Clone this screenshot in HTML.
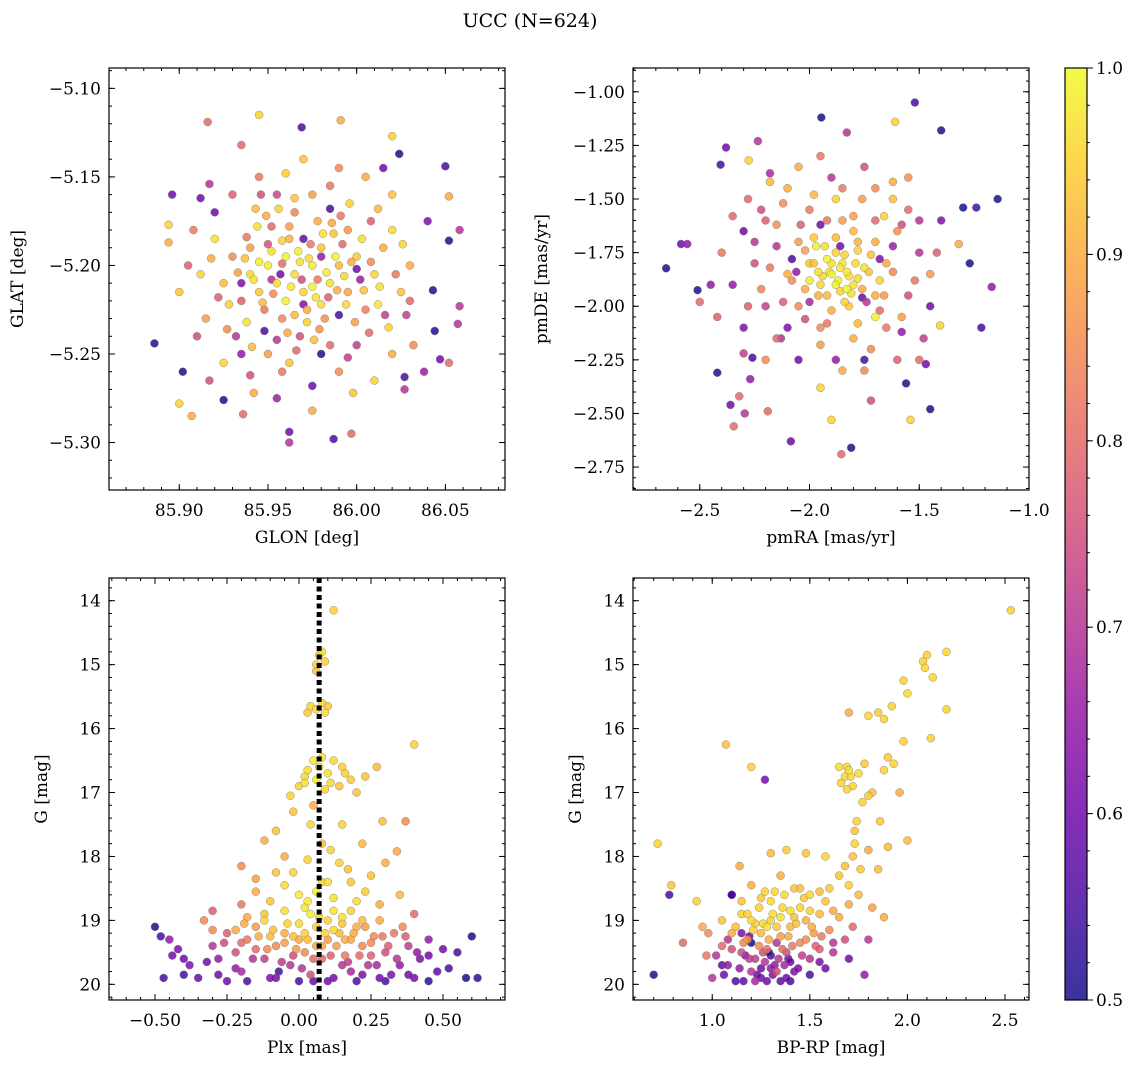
<!DOCTYPE html>
<html><head><meta charset="utf-8"><style>
html,body{margin:0;padding:0;background:#fff;}
svg{display:block;font-family:"DejaVu Serif","Liberation Serif",serif;}
</style></head><body>
<svg id="fig" width="1136" height="1067" viewBox="0 0 1136 1067">
<text x="530" y="27" text-anchor="middle" font-size="19">UCC (N=624)</text>
</svg>
<script>
// ---- Panel 1: GLON / GLAT ----
const p1Glon=[85.886,85.896,85.902,85.916,85.945,85.969,85.991,86.020,86.024,86.050,86.052,86.058,86.043,86.058,86.057,86.044,86.047,86.052,85.900,85.907,85.925,85.936,85.962,85.962,85.987,85.997,86.027,86.027,85.917,85.894,85.894,85.917,85.912,85.935,86.052,
85.950,85.955,85.960,85.965,85.970,85.975,85.980,85.985,85.990,85.945,85.940,85.962,85.972,85.958,85.948,85.982,85.995,86.000,85.995,85.978,85.965,85.952,85.940,85.935,85.930,85.925,85.968,85.985,86.005,86.010,86.015,86.008,85.975,85.955,85.943,85.932,85.950,86.000,86.018,86.025,86.020,85.920,85.915,85.912,85.960,85.975,85.988,85.945,85.968,85.980,85.957,85.990,85.935,86.002,85.970,85.962,85.990,86.030,86.032,85.905,85.900,85.925,85.940,86.010,85.970,85.945,86.005,86.020,85.930,85.978,85.950,85.992,85.965,85.938,86.012,86.028,85.985,85.920,86.040,86.038,85.955,85.975,85.998,85.948,85.980];
const p1Glat=[-5.244,-5.160,-5.260,-5.119,-5.115,-5.122,-5.118,-5.127,-5.137,-5.144,-5.161,-5.180,-5.214,-5.223,-5.233,-5.237,-5.253,-5.255,-5.278,-5.285,-5.276,-5.284,-5.294,-5.300,-5.298,-5.295,-5.270,-5.263,-5.265,-5.177,-5.187,-5.154,-5.162,-5.132,-5.186,
-5.200,-5.210,-5.195,-5.205,-5.215,-5.200,-5.190,-5.210,-5.200,-5.215,-5.190,-5.185,-5.225,-5.230,-5.225,-5.230,-5.215,-5.195,-5.180,-5.175,-5.170,-5.178,-5.205,-5.220,-5.195,-5.210,-5.240,-5.245,-5.225,-5.205,-5.190,-5.175,-5.160,-5.160,-5.168,-5.240,-5.250,-5.245,-5.235,-5.215,-5.180,-5.185,-5.230,-5.205,-5.220,-5.212,-5.195,-5.198,-5.198,-5.222,-5.205,-5.228,-5.210,-5.208,-5.185,-5.255,-5.260,-5.200,-5.245,-5.200,-5.215,-5.255,-5.262,-5.265,-5.140,-5.150,-5.150,-5.160,-5.160,-5.208,-5.188,-5.188,-5.228,-5.232,-5.222,-5.228,-5.168,-5.170,-5.175,-5.260,-5.275,-5.282,-5.272,-5.237,-5.250];
const p1Prob=[.5,.6,.5,.8,.95,.55,.9,.95,.5,.55,.9,.7,.5,.7,.7,.5,.6,.8,.95,.9,.5,.8,.6,.7,.55,.8,.7,.55,.75,.95,.9,.7,.6,.8,.5,
.98,.97,.99,.96,.95,.98,.93,.97,.92,.94,.88,.91,.90,.85,.82,.86,.89,.94,.87,.90,.84,.80,.96,.78,.85,.92,.75,.80,.83,.95,.9,.78,.88,.74,.92,.70,.88,.72,.95,.93,.96,.97,.88,.95,.99,.99,.99,.99,.97,.96,.6,.55,.62,.66,.58,.93,.85,.9,.85,.78,.93,.95,.75,.95,.93,.82,.9,.93,.78,.82,.76,.8,.92,.97,.98,.72,.55,.6,.62,.66,.66,.9,.93,.55,.5];
const p1GlonCore=[85.952,85.958,85.963,85.967,85.973,85.977,85.983,85.987,85.993,85.997,85.942,85.947,85.953,85.958,85.962,85.969,85.974,85.979,85.984,85.989,85.994,85.999,86.004,86.008,86.013,85.937,85.933,85.928,85.938,85.944,85.949,85.956,85.961,85.966,85.972,85.976,85.981,85.986,85.991,85.996,86.003,86.007,86.016,86.022,85.918,85.922,85.927,85.941,85.955,85.946,85.965,85.985,86.012,86.026,86.030,86.020,85.995,85.958,85.935,85.910,85.908,85.960,85.990,85.975,85.942,86.015,85.980,85.952,85.970,86.000];
const p1GlatCore=[-5.192,-5.186,-5.212,-5.192,-5.196,-5.218,-5.204,-5.182,-5.206,-5.198,-5.208,-5.221,-5.216,-5.199,-5.178,-5.208,-5.188,-5.236,-5.218,-5.214,-5.222,-5.232,-5.214,-5.198,-5.212,-5.196,-5.204,-5.222,-5.184,-5.178,-5.172,-5.168,-5.238,-5.248,-5.232,-5.242,-5.182,-5.176,-5.172,-5.165,-5.185,-5.238,-5.228,-5.205,-5.196,-5.218,-5.236,-5.246,-5.242,-5.160,-5.162,-5.155,-5.168,-5.188,-5.220,-5.250,-5.252,-5.260,-5.250,-5.240,-5.180,-5.148,-5.145,-5.268,-5.272,-5.145,-5.195,-5.208,-5.222,-5.202];
const p1ProbCore=[.97,.95,.98,.99,.96,.97,.98,.93,.95,.9,.97,.92,.85,.8,.88,.75,.82,.86,.78,.9,.96,.88,.93,.85,.97,.93,.88,.95,.82,.97,.9,.95,.9,.8,.95,.93,.97,.9,.82,.95,.97,.8,.72,.82,.9,.78,.85,.92,.7,.75,.93,.82,.92,.95,.8,.9,.72,.82,.65,.75,.82,.95,.85,.6,.9,.6,.65,.7,.62,.6];

// ---- Panel 2: pmRA / pmDE ----
const p2Pmra=[-2.653,-2.51,-2.585,-2.557,-2.50,-2.42,-2.405,-2.38,-2.277,-2.235,-1.946,-1.83,-1.61,-1.52,-1.40,-1.30,-1.24,-1.143,-1.27,-1.217,-1.17,-1.32,-1.405,-1.45,-1.54,-1.56,-1.81,-1.855,-1.90,-2.085,-2.19,-2.295,-2.345,-2.36,-2.32,-2.26,-2.27,-1.95,-1.72,-1.47,-1.75,-2.13,
-1.90,-1.85,-1.80,-1.95,-1.88,-1.75,-2.00,-1.92,-1.82,-1.70,-1.78,-2.05,-2.10,-2.05,-1.65,-1.60,-1.70,-1.85,-2.00,-2.20,-2.25,-2.20,-2.15,-1.95,-1.80,-1.65,-1.55,-1.50,-1.55,-1.70,-1.90,-2.10,-2.30,-2.35,-2.30,-1.45,-1.40,-1.75,-2.05,-1.87,-1.83,-1.92,-1.78,-1.96,-1.86,-1.72,-2.02,-1.98,-1.80,-1.68,-1.90,-2.08,-1.76,-1.95,-1.62,-2.15,-2.22,-1.58,-1.62,-1.88,-2.12,-2.28,-2.20,-1.85,-1.60,-1.48,-1.45,-2.40,-2.42,-1.55,-2.05,-1.75,-1.95,-2.18,-1.70,-2.00,-1.93];
const p2Pmde=[-1.823,-1.925,-1.71,-1.71,-1.98,-2.31,-1.34,-1.26,-1.32,-1.23,-1.12,-1.19,-1.14,-1.05,-1.18,-1.54,-1.54,-1.50,-1.80,-2.10,-1.91,-1.71,-2.09,-2.48,-2.53,-2.36,-2.66,-2.69,-2.53,-2.63,-2.49,-2.50,-2.56,-2.46,-2.42,-2.24,-2.34,-2.38,-2.44,-2.27,-2.30,-2.15,
-1.85,-1.80,-1.90,-1.90,-1.75,-1.82,-1.80,-1.95,-2.00,-1.95,-1.70,-1.70,-1.85,-2.00,-1.80,-1.65,-1.60,-1.60,-1.55,-1.60,-1.80,-2.00,-2.15,-2.10,-2.15,-2.10,-1.95,-1.75,-1.55,-1.45,-1.40,-1.45,-1.65,-1.90,-2.10,-2.00,-1.60,-2.25,-2.25,-1.88,-1.84,-1.78,-1.87,-1.84,-1.93,-1.76,-1.92,-1.68,-1.65,-1.88,-2.02,-1.78,-1.96,-1.62,-1.72,-1.72,-1.92,-2.05,-1.50,-1.50,-1.52,-1.50,-2.25,-2.30,-2.25,-2.15,-1.85,-1.75,-2.05,-1.40,-1.35,-1.35,-1.30,-1.38,-2.05,-1.88,-1.72];
const p2Prob=[.5,.5,.6,.65,.8,.5,.55,.6,.95,.7,.5,.7,.95,.55,.5,.5,.55,.5,.5,.55,.65,.9,.95,.5,.95,.5,.5,.8,.95,.6,.8,.7,.8,.6,.8,.55,.65,.95,.75,.6,.85,.7,
.99,.98,.97,.96,.95,.97,.93,.92,.94,.9,.91,.88,.9,.85,.9,.86,.8,.88,.82,.78,.75,.72,.8,.85,.9,.82,.75,.7,.8,.85,.7,.9,.6,.65,.62,.6,.62,.55,.6,.99,.98,.99,.96,.97,.95,.93,.9,.94,.92,.95,.9,.55,.58,.6,.66,.7,.84,.88,.93,.95,.85,.8,.85,.9,.78,.72,.88,.82,.78,.86,.9,.75,.82,.68,.99,.98,.97];
const p2PmraCore=[-1.86,-1.82,-1.88,-1.94,-1.90,-1.84,-1.79,-1.76,-1.98,-1.96,-1.84,-1.73,-1.70,-2.02,-2.08,-1.88,-1.80,-1.92,-2.04,-1.66,-1.62,-1.68,-1.78,-1.92,-2.02,-2.12,-2.18,-2.15,-1.58,-1.52,-1.58,-2.25,-2.28,-2.10,-1.72,-1.95,-1.66,-1.76,-1.98,-2.22,-1.50,-1.42,-1.50,-1.88,-2.30,-2.35,-2.45,-2.18,-1.62,-1.85,-1.83,-1.91,-1.78,-2.00,-1.74,-1.86,-1.68,-2.06,-1.97,-1.81];
const p2PmdeCore=[-1.82,-1.86,-1.90,-1.86,-1.80,-1.76,-1.80,-1.92,-1.80,-1.95,-1.98,-1.84,-1.70,-1.74,-1.88,-1.68,-1.58,-1.60,-1.62,-1.95,-1.84,-2.02,-2.08,-2.08,-2.06,-1.98,-1.82,-1.62,-1.62,-1.88,-2.12,-1.70,-2.00,-2.10,-2.20,-2.18,-1.58,-1.50,-1.48,-1.55,-1.60,-1.75,-2.25,-2.25,-2.22,-1.58,-1.90,-1.42,-1.42,-1.45,-1.92,-1.84,-1.74,-1.98,-1.98,-1.72,-1.78,-1.84,-1.72,-1.94];
const p2ProbCore=[.98,.97,.99,.96,.97,.95,.96,.9,.93,.9,.95,.93,.9,.88,.85,.92,.88,.82,.78,.87,.85,.8,.92,.82,.75,.78,.82,.86,.75,.82,.65,.7,.78,.62,.85,.88,.95,.88,.92,.75,.7,.78,.8,.65,.72,.8,.65,.92,.9,.82,.99,.98,.95,.68,.7,.6,.62,.65,.99,.97];

// ---- Panel 3: Plx / G ----
const p3Plx=[0.12,0.08,0.09,0.06,0.04,0.06,0.09,0.10,0.40,0.05,0.08,0.12,0.15,0.10,0.02,0.06,0.18,0.14,0.00,0.27,0.23,-0.03,0.20,0.05,0.29,0.37,-0.08,0.15,-0.12,0.08,0.22,-0.05,0.03,0.14,0.30,-0.20,0.34,-0.15,0.10,0.18,-0.05,0.25,0.00,0.06,0.12,-0.10,0.20,0.28,-0.20,0.35,0.40,-0.30,-0.18,0.04,0.15,
-0.50,-0.48,-0.45,-0.42,-0.40,-0.47,-0.35,-0.38,-0.30,-0.28,-0.25,-0.22,-0.20,-0.18,-0.15,-0.12,-0.10,-0.08,-0.05,-0.03,0.00,0.02,0.04,0.06,0.08,0.10,0.12,0.14,0.16,0.18,0.20,0.22,0.24,0.26,0.28,0.30,0.33,0.35,0.38,0.40,0.42,0.45,0.48,0.50,0.55,0.58,0.60,0.62,-0.33,-0.12,0.00,0.10,0.28,-0.22,0.36,-0.07,0.20,-0.25,0.05,-0.15,0.25,0.15,-0.02,0.32,-0.32,0.45,0.52,-0.44,-0.05,0.08,0.18,-0.10,0.02,0.12];
const p3G=[14.15,14.8,14.95,15.1,15.65,15.7,15.75,15.65,16.25,16.5,16.45,16.5,16.6,16.7,16.75,16.8,16.8,16.9,16.9,16.6,16.75,17.05,17.0,17.2,17.45,17.45,17.6,17.5,17.75,17.8,17.8,18.0,18.05,18.1,18.1,18.15,17.92,18.35,18.4,18.4,18.45,18.3,18.6,18.55,18.65,18.7,18.7,18.75,18.75,18.6,18.9,18.85,18.95,18.9,18.95,
19.1,19.25,19.3,19.45,19.6,19.9,19.9,19.7,19.4,19.6,19.2,19.5,19.8,19.3,19.1,19.6,19.9,19.4,19.2,19.7,19.3,19.5,19.85,19.1,19.6,19.3,19.9,19.2,19.55,19.8,19.1,19.4,19.7,19.25,19.9,19.5,19.2,19.7,19.4,19.9,19.6,19.3,19.8,19.45,19.5,19.9,19.25,19.9,19.0,19.0,19.05,19.0,19.0,19.15,19.1,19.8,19.95,19.95,19.95,19.45,19.55,19.7,19.55,19.85,19.65,19.55,19.75,19.55,19.35,19.4,19.3,19.25,19.2,19.15];
const p3Prob=[.95,.97,.95,.93,.95,.97,.96,.94,.95,.98,.97,.96,.95,.97,.96,.98,.94,.93,.95,.92,.93,.95,.93,.9,.92,.85,.93,.95,.9,.93,.92,.9,.95,.95,.9,.85,.9,.88,.97,.94,.96,.93,.98,.99,.97,.93,.96,.9,.82,.92,.8,.78,.9,.99,.97,
.5,.55,.65,.62,.6,.55,.58,.62,.7,.65,.78,.75,.68,.82,.88,.72,.62,.85,.9,.7,.9,.85,.75,.95,.8,.88,.6,.92,.82,.68,.9,.85,.7,.85,.6,.75,.82,.65,.72,.6,.62,.65,.58,.6,.55,.5,.5,.52,.85,.95,.96,.95,.9,.9,.85,.55,.55,.6,.58,.8,.78,.7,.75,.62,.6,.6,.55,.6,.88,.9,.9,.92,.95,.96];
const p3PlxCore=[-0.30,-0.26,-0.22,-0.19,-0.16,-0.14,-0.11,-0.09,-0.06,-0.04,-0.01,0.01,0.03,0.05,0.07,0.09,0.11,0.13,0.15,0.17,0.19,0.21,0.23,0.25,0.27,0.29,0.31,0.34,0.37,0.41,-0.28,-0.18,-0.08,0.00,0.10,0.22,0.30,0.38,-0.40,0.45,-0.05,0.02,0.12,0.18,-0.12,0.22,-0.20,0.16,-0.02,0.06,0.03,0.08,-0.02,0.17,0.11,-0.08,0.23,-0.15,0.04,-0.02,0.07,0.03,0.11,0.16,0.09,0.02,0.06,0.07,0.08,0.03];
const p3GCore=[19.15,19.35,19.75,19.05,19.6,19.25,19.45,19.15,19.65,19.05,19.45,19.75,19.3,19.6,18.95,19.2,19.55,19.4,19.05,19.65,19.2,19.55,19.1,19.35,19.7,19.25,19.4,19.6,19.25,19.5,19.85,19.95,19.9,19.95,19.95,19.85,19.95,19.85,19.85,19.95,18.85,18.8,18.85,18.85,18.9,19.0,19.35,19.3,19.25,19.4,18.7,18.4,18.25,18.2,17.9,18.25,18.55,18.55,17.5,17.3,16.6,16.65,16.85,16.7,16.95,16.85,15.0,14.85,15.6,15.75];
const p3ProbCore=[.85,.75,.65,.9,.7,.9,.85,.93,.72,.95,.88,.7,.92,.8,.96,.95,.78,.88,.93,.72,.9,.8,.88,.85,.68,.82,.78,.7,.78,.65,.6,.55,.6,.55,.6,.62,.55,.6,.55,.52,.97,.98,.97,.95,.93,.92,.8,.9,.93,.9,.98,.96,.95,.93,.95,.93,.94,.9,.95,.93,.97,.96,.96,.95,.95,.97,.95,.96,.95,.94];
const p3LineX=[0.07];

// ---- Panel 4: BP-RP / G ----
const p4Bprp=[2.53,2.2,2.1,2.09,2.08,2.13,1.98,2.0,2.2,1.92,1.85,1.88,1.80,1.70,2.12,1.98,1.90,1.93,1.88,1.78,1.65,1.7,1.68,1.66,1.72,1.75,1.69,1.8,1.77,1.82,1.96,2.0,1.86,1.74,1.73,1.9,1.8,1.72,1.76,1.85,1.65,1.7,1.6,1.55,1.5,1.45,1.58,1.48,1.38,1.3,1.2,1.07,1.27,1.14,0.72,0.79,1.1,1.35,1.88,1.82,
0.70,0.78,0.85,0.92,0.95,0.97,1.0,1.05,1.05,1.08,1.1,1.12,1.15,1.15,1.18,1.2,1.22,1.22,1.25,1.25,1.28,1.3,1.3,1.32,1.35,1.35,1.38,1.4,1.4,1.42,1.45,1.48,1.5,1.52,1.55,1.55,1.58,1.6,1.62,1.65,1.68,1.7,1.72,1.78,1.8,1.2,1.3,1.25,1.1,1.18,1.28,1.35,1.45,1.4,1.22,1.05,1.15,1.33,1.5,1.27,1.2,1.42,1.33];
const p4G=[14.15,14.8,14.85,15.05,14.95,15.2,15.25,15.45,15.7,15.65,15.75,15.85,15.8,15.75,16.15,16.2,16.45,16.55,16.65,16.55,16.6,16.65,16.75,16.85,16.9,16.7,16.95,17.05,17.15,17.0,17.0,17.75,17.45,17.45,17.6,17.85,17.9,18.0,18.2,18.2,18.3,18.45,18.5,18.55,18.6,18.5,18.0,17.95,17.9,17.95,16.6,16.25,16.8,18.15,17.8,18.45,18.6,18.3,18.95,18.8,
19.85,18.6,19.35,18.7,19.1,19.55,19.9,19.4,19.0,19.7,19.2,19.95,19.5,18.9,19.3,19.8,19.05,19.6,19.2,19.9,19.45,18.7,19.0,19.7,19.25,19.95,19.5,19.1,18.85,19.8,19.35,19.0,19.6,19.2,18.9,19.45,19.75,19.15,19.5,18.95,19.3,19.6,19.1,19.85,19.3,19.35,19.55,19.75,18.6,18.9,19.1,18.95,18.8,19.65,19.95,19.7,19.2,19.35,19.85,18.55,18.45,18.5,19.8];
const p4Prob=[.95,.96,.95,.96,.95,.95,.95,.96,.95,.95,.94,.95,.95,.9,.95,.95,.94,.95,.95,.94,.96,.97,.96,.95,.95,.96,.95,.94,.95,.93,.9,.92,.94,.95,.93,.92,.9,.93,.94,.92,.93,.95,.94,.92,.95,.93,.95,.93,.94,.92,.95,.93,.6,.9,.95,.93,.55,.9,.9,.88,
.5,.55,.8,.95,.9,.82,.7,.8,.93,.65,.9,.55,.75,.95,.88,.7,.95,.72,.92,.6,.82,.96,.95,.65,.88,.58,.75,.92,.96,.62,.85,.9,.7,.88,.92,.78,.6,.85,.7,.9,.75,.6,.8,.65,.7,.5,.55,.6,.55,.95,.97,.97,.95,.6,.68,.58,.62,.7,.55,.95,.9,.93,.75];
const p4BprpCore=[1.12,1.16,1.19,1.21,1.24,1.26,1.27,1.29,1.31,1.33,1.36,1.37,1.39,1.41,1.43,1.46,1.48,1.51,1.53,1.56,1.14,1.17,1.23,1.26,1.3,1.34,1.38,1.44,1.1,1.08,1.2,1.31,1.36,1.24,1.42,1.5,1.58,1.62,1.47,1.32,1.37,1.25,1.15,1.19,1.29,1.39,1.02,0.98,1.06,1.16,1.28,1.4,1.55,1.62,1.7,1.75,1.68,1.73,1.69,1.71];
const p4GCore=[19.1,19.35,19.6,19.15,19.4,19.05,19.65,19.3,19.85,19.1,19.45,19.7,19.25,19.4,19.05,19.55,19.3,19.1,19.4,19.25,19.75,19.55,19.85,19.5,19.75,19.6,19.9,19.75,19.45,19.3,19.0,18.9,18.8,18.8,18.95,18.85,18.7,18.85,18.65,18.55,18.6,18.65,18.7,19.25,19.5,19.6,19.55,19.2,19.85,19.95,19.95,19.95,19.65,19.35,18.75,18.6,18.15,17.8,16.6,16.75];
const p4ProbCore=[.92,.85,.72,.95,.85,.96,.7,.9,.62,.94,.8,.68,.9,.82,.93,.72,.85,.9,.78,.82,.65,.62,.6,.75,.65,.7,.6,.62,.75,.7,.96,.97,.96,.95,.93,.95,.93,.9,.94,.95,.96,.94,.93,.6,.55,.58,.7,.85,.6,.58,.6,.55,.62,.7,.9,.92,.93,.95,.96,.96];

// ---- Colorbar ----
const cbTicks=[0.5,0.6,0.7,0.8,0.9,1.0];
const cbLabels=["0.5","0.6","0.7","0.8","0.9","1.0"];

const NS="http://www.w3.org/2000/svg";
const svg=document.getElementById('fig');
function mk(tag,attrs,parent){const e=document.createElementNS(NS,tag);for(const k in attrs)e.setAttribute(k,attrs[k]);(parent||svg).appendChild(e);return e;}
const plasma=[[13,8,135],[65,4,157],[106,0,168],[143,13,164],[177,42,144],[204,71,120],[225,100,98],[242,132,75],[252,166,54],[252,206,37],[240,249,33]];
function cmap(t){t=Math.max(0,Math.min(1,t));const s=t*10,i=Math.min(9,Math.floor(s)),f=s-i;const a=plasma[i],b=plasma[i+1];return 'rgb('+[0,1,2].map(k=>Math.round(a[k]+(b[k]-a[k])*f)).join(',')+')';}
function pc(p){return cmap((p-0.5)/0.5);}

function fmt(v,d){return (v<0?'\u2212':'')+Math.abs(v).toFixed(d);}
function panel(cfg){
  const g=mk('g',{});
  
  
  const {x0,x1,y0,y1,xmin,xmax,ymin,ymax}=cfg;
  const sx=v=>x0+(v-xmin)/(xmax-xmin)*(x1-x0);
  const sy=cfg.invert? (v=>y0+(v-ymin)/(ymax-ymin)*(y1-y0)) : (v=>y1-(v-ymin)/(ymax-ymin)*(y1-y0));
  const cid='clip-'+cfg.name;
  const cp=mk('clipPath',{id:cid},g);mk('rect',{x:x0,y:y0,width:x1-x0,height:y1-y0},cp);
  const pts=mk('g',{'clip-path':'url(#'+cid+')'},g);
  
  
  const idx=cfg.xs.map((_,i)=>i).sort((a,b)=>cfg.ps[a]-cfg.ps[b]);
  idx.forEach(i=>{
    const c=mk('circle',{cx:sx(cfg.xs[i]),cy:sy(cfg.ys[i]),r:4,fill:pc(cfg.ps[i]),'fill-opacity':0.82,stroke:'#777','stroke-width':0.4},pts);
    
    
  });
  if(cfg.vline){cfg.vline.forEach(v=>{const l=mk('line',{x1:sx(v),x2:sx(v),y1:y0,y2:y1,stroke:'#000','stroke-width':5,'stroke-dasharray':'5,3.5'},g);
    
    });}
  const tk=mk('g',{stroke:'#000','stroke-width':1},g);
  function ticks(arr,len,axis){arr.forEach(v=>{
    if(axis==='x'){const X=sx(v);if(X<x0-0.5||X>x1+0.5)return;mk('line',{x1:X,x2:X,y1:y1,y2:y1-len},tk);mk('line',{x1:X,x2:X,y1:y0,y2:y0+len},tk);}
    else{const Y=sy(v);if(Y<y0-0.5||Y>y1+0.5)return;mk('line',{x1:x0,x2:x0+len,y1:Y,y2:Y},tk);mk('line',{x1:x1,x2:x1-len,y1:Y,y2:Y},tk);}
  });}
  const rng=(a,b,s)=>{const r=[];for(let v=a;v<=b+1e-9;v+=s)r.push(+v.toFixed(6));return r;};
  ticks(rng(cfg.xmn[0],cfg.xmn[1],cfg.xmn[2]),3,'x');
  ticks(rng(cfg.ymn[0],cfg.ymn[1],cfg.ymn[2]),3,'y');
  ticks(cfg.xt,6,'x');ticks(cfg.yt,6,'y');
  cfg.xt.forEach(v=>{const X=sx(v);if(X>x1+1)return;const t=mk('text',{x:X,y:y1+26,'text-anchor':'middle','font-size':17},g);t.textContent=fmt(v,cfg.xd);
    
    });
  cfg.yt.forEach(v=>{const t=mk('text',{x:x0-8,y:sy(v)+6,'text-anchor':'end','font-size':17},g);t.textContent=fmt(v,cfg.yd);
    
    });
  const fr=mk('rect',{x:x0,y:y0,width:x1-x0,height:y1-y0,fill:'none',stroke:'#000','stroke-width':1.2},g);
  
  
  const xl=mk('text',{x:(x0+x1)/2,y:y1+53,'text-anchor':'middle','font-size':17},g);xl.textContent=cfg.xlabel;
  
  
  const ycx=cfg.ylx, ycy=(y0+y1)/2;
  const yl=mk('text',{x:ycx,y:ycy,'text-anchor':'middle','font-size':17,transform:'rotate(-90 '+ycx+' '+ycy+')'},g);yl.textContent=cfg.ylabel;
  
  
}

panel({name:'glon-glat-panel',x0:109,x1:505,y0:68,y1:490,xmin:85.8604,xmax:86.0836,ymin:-5.3268,ymax:-5.0885,
  xs:p1Glon.concat(p1GlonCore),ys:p1Glat.concat(p1GlatCore),ps:p1Prob.concat(p1ProbCore),xt:[85.90,85.95,86.00,86.05],yt:[-5.10,-5.15,-5.20,-5.25,-5.30],xd:2,yd:2,
  xmn:[85.86,86.09,0.01],ymn:[-5.33,-5.08,0.01],xlabel:'GLON [deg]',ylabel:'GLAT [deg]',ylx:23});
panel({name:'pmra-pmde-panel',x0:633,x1:1029,y0:68,y1:490,xmin:-2.804,xmax:-1.0,ymin:-2.857,ymax:-0.889,
  xs:p2Pmra.concat(p2PmraCore),ys:p2Pmde.concat(p2PmdeCore),ps:p2Prob.concat(p2ProbCore),xt:[-2.5,-2.0,-1.5,-1.0],yt:[-1.00,-1.25,-1.50,-1.75,-2.00,-2.25,-2.50,-2.75],xd:1,yd:2,
  xmn:[-2.8,-1.0,0.1],ymn:[-2.85,-0.9,0.05],xlabel:'pmRA [mas/yr]',ylabel:'pmDE [mas/yr]',ylx:547});
panel({name:'plx-g-panel',x0:109,x1:505,y0:578,y1:1000,xmin:-0.6597,xmax:0.7153,ymin:13.645,ymax:20.245,invert:true,
  xs:p3Plx.concat(p3PlxCore),ys:p3G.concat(p3GCore),ps:p3Prob.concat(p3ProbCore),vline:p3LineX,xt:[-0.50,-0.25,0.00,0.25,0.50],yt:[14,15,16,17,18,19,20],xd:2,yd:0,
  xmn:[-0.65,0.7,0.05],ymn:[13.6,20.2,0.2],xlabel:'Plx [mas]',ylabel:'G [mag]',ylx:47});
panel({name:'bprp-g-panel',x0:633,x1:1029,y0:578,y1:1000,xmin:0.594,xmax:2.623,ymin:13.645,ymax:20.245,invert:true,
  xs:p4Bprp.concat(p4BprpCore),ys:p4G.concat(p4GCore),ps:p4Prob.concat(p4ProbCore),xt:[1.0,1.5,2.0,2.5],yt:[14,15,16,17,18,19,20],xd:1,yd:0,
  xmn:[0.6,2.6,0.1],ymn:[13.6,20.2,0.2],xlabel:'BP-RP [mag]',ylabel:'G [mag]',ylx:581});

(function(){
  const x0=1065,x1=1087,y0=68,y1=1000;
  const g=mk('g',{});
  
  
  const defs=mk('defs',{},g);
  const lg=mk('linearGradient',{id:'cbgrad',x1:0,y1:1,x2:0,y2:0},defs);
  for(let i=0;i<=20;i++){mk('stop',{offset:(i/20),'stop-color':cmap(i/20),'stop-opacity':0.82},lg);}
  mk('rect',{x:x0,y:y0,width:x1-x0,height:y1-y0,fill:'url(#cbgrad)'},g);
  const sy=v=>y1-(v-0.5)/0.5*(y1-y0);
  for(let v=0.5;v<=1.0001;v+=0.02){const Y=sy(v);mk('line',{x1:x1,x2:x1+3,y1:Y,y2:Y,stroke:'#000','stroke-width':1},g);}
  cbTicks.forEach((v,i)=>{const Y=sy(v);mk('line',{x1:x1,x2:x1+6,y1:Y,y2:Y,stroke:'#000','stroke-width':1},g);
    const t=mk('text',{x:x1+9,y:Y+6,'font-size':17},g);t.textContent=cbLabels[i];
    
    });
  mk('rect',{x:x0,y:y0,width:x1-x0,height:y1-y0,fill:'none',stroke:'#000','stroke-width':1.2},g);
})();
</script>
</body></html>
